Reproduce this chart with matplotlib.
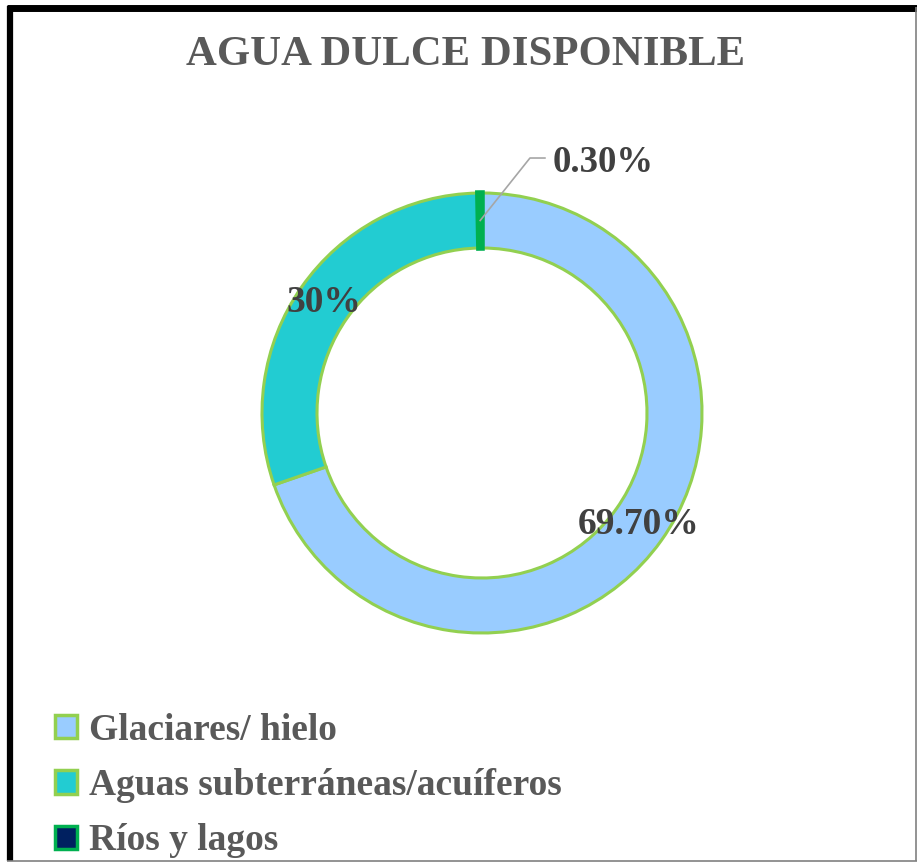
import numpy as np
import matplotlib
matplotlib.use('Agg')
import matplotlib.pyplot as plt
from matplotlib.patches import Patch
from matplotlib.lines import Line2D

plt.rcParams['font.family'] = ['Liberation Serif', 'DejaVu Serif']
plt.rcParams['font.weight'] = 'bold'

# Data
categories = ['Glaciares/ hielo', 'Aguas subterráneas/acuíferos', 'Ríos y lagos']
values = [69.7, 30.0, 0.3]
labels = ['69.70%', '30%', '0.30%']
colors = ['#99CCFF', '#22CCD2', '#002060']
edges = ['#92D050', '#92D050', '#00B050']

W, H = 917, 864
dpi = 100
fig = plt.figure(figsize=(W / dpi, H / dpi), dpi=dpi)

# donut centre and radius in pixels
cx, cy, R = 482, 413, 220
ax = fig.add_axes([(cx - R) / W, (H - cy - R) / H, 2 * R / W, 2 * R / H])

wedges, _ = ax.pie(values, colors=colors, startangle=90, counterclock=False,
                   radius=1.0, wedgeprops=dict(width=0.25, linewidth=2.2))
for w, ec in zip(wedges, edges):
    w.set_edgecolor(ec)
wedges[2].set_linewidth(4)
ax.set_xlim(-1, 1)
ax.set_ylim(-1, 1)
ax.set_aspect('equal')
for w in wedges:
    w.set_clip_on(False)

lab_col = '#404040'
r_lab = 0.875
for i, (w, lab) in enumerate(zip(wedges, labels)):
    ang = np.deg2rad((w.theta1 + w.theta2) / 2)
    x, y = r_lab * np.cos(ang), r_lab * np.sin(ang)
    if i < 2:
        ax.text(x, y, lab, ha='center', va='center', fontsize=27,
                color=lab_col, fontweight='bold')
    else:
        ex, ey = 0.218, 1.159
        ax.plot([x, ex, ex + 0.068], [y, ey, ey], color='#A6A6A6', lw=1.2,
                clip_on=False)
        ax.text(ex + 0.105, ey - 0.02, lab, ha='left', va='center', fontsize=26.5,
                color=lab_col, fontweight='bold', clip_on=False)

fig.text(466 / W, 1 - 55 / H, 'AGUA DULCE DISPONIBLE', ha='center', va='center',
         fontsize=30.8, fontweight='bold', color='#595959')

handles = [Patch(facecolor=c, edgecolor=e, linewidth=2.5) for c, e in zip(colors, edges)]
leg = fig.legend(handles, categories, loc='upper left',
                 bbox_to_anchor=(40 / W, 1 - 698 / H), frameon=False,
                 fontsize=27, handlelength=0.58, handleheight=0.58,
                 handletextpad=0.32, labelspacing=0.54, borderaxespad=0)
for t in leg.get_texts():
    t.set_color('#595959')
    t.set_fontweight('bold')

# outer frame: thick black left/top, thin grey right/bottom
def px(x, y):
    return x / W, 1 - y / H

for (x0, y0), (x1, y1), col, lw in [((10, 6), (10, 861), 'black', 4.5),
                                    ((7, 7.5), (917, 7.5), 'black', 5.0),
                                    ((915.5, 7), (915.5, 861), '#808080', 1.2),
                                    ((7, 860.5), (917, 860.5), '#808080', 1.2)]:
    a, b = px(x0, y0)
    c, d = px(x1, y1)
    fig.add_artist(Line2D([a, c], [b, d], color=col, lw=lw, transform=fig.transFigure,
                          solid_capstyle='butt'))

fig.savefig('out.png', dpi=dpi)
